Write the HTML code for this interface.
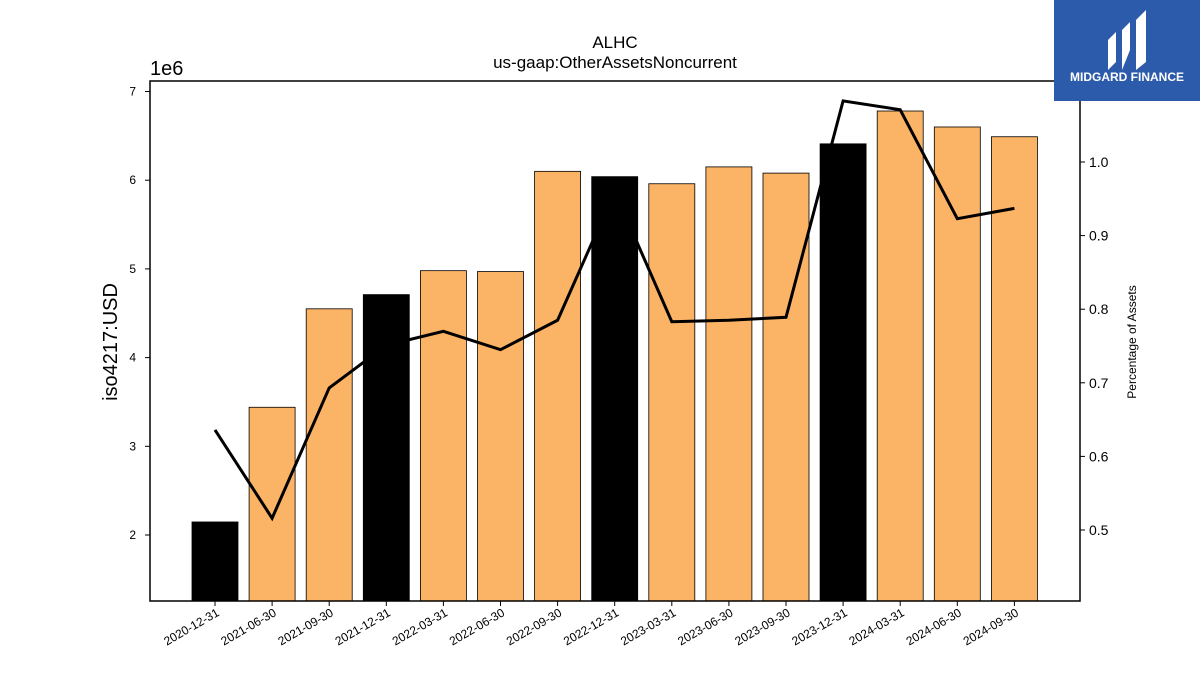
<!DOCTYPE html>
<html><head><meta charset="utf-8"><style>
body{margin:0;background:#fff;width:1200px;height:675px;overflow:hidden;font-family:"Liberation Sans","DejaVu Sans",sans-serif}
</style></head><body>
<svg id="c" width="1200" height="675" xmlns="http://www.w3.org/2000/svg">
<text x="615" y="48" font-size="17" text-anchor="middle">ALHC</text>
<text x="615" y="68" font-size="17" text-anchor="middle">us-gaap:OtherAssetsNoncurrent</text>
<text x="150" y="75" font-size="20">1e6</text>
<text transform="translate(117,342) rotate(-90)" font-size="20" text-anchor="middle">iso4217:USD</text>
<text transform="translate(1136,342) rotate(-90)" font-size="12" text-anchor="middle">Percentage of Assets</text>
<g id="bars"></g><g id="lines"></g><g id="axes"></g>
<rect x="150" y="81" width="930" height="520" fill="none" stroke="#000" stroke-width="1.5"/>
<g>
<rect x="1054" y="0" width="146" height="101" fill="#2d5bab"/>
<path d="M1108 70 V40 L1116 32 V62 Z M1122 70 V30 L1130 22 V50 Z M1136 70 V20 L1146 10 V62 Z" fill="#fff"/>
<text x="1127" y="81" font-size="12" font-weight="bold" fill="#fff" text-anchor="middle">MIDGARD FINANCE</text>
</g>
</svg>
<script>
const categories=["2020-12-31","2021-06-30","2021-09-30","2021-12-31","2022-03-31","2022-06-30","2022-09-30","2022-12-31","2023-03-31","2023-06-30","2023-09-30","2023-12-31","2024-03-31","2024-06-30","2024-09-30"];
const values=[2.147,3.44,4.55,4.71,4.98,4.97,6.10,6.04,5.96,6.15,6.08,6.41,6.78,6.60,6.49];
const pct=[0.636,0.516,0.693,0.751,0.770,0.745,0.785,0.96,0.783,0.785,0.789,1.083,1.071,0.923,0.937];
const yTicks=[2,3,4,5,6,7];
const y2Ticks=[0.5,0.6,0.7,0.8,0.9,1.0];
const NS="http://www.w3.org/2000/svg";
const X=i=>215+i*57.1;
const Y=v=>535-(v-2)*88.7;
const Y2=v=>530-(v-0.5)*736;
const bottom=601;
function mk(t,a,p){const e=document.createElementNS(NS,t);for(const k in a)e.setAttribute(k,a[k]);p.appendChild(e);return e;}
const bars=document.getElementById('bars'),lines=document.getElementById('lines'),axes=document.getElementById('axes');
values.forEach((v,i)=>{
 const black=categories[i].endsWith("12-31");
 const r=mk('rect',{x:X(i)-23,y:Y(v),width:46,height:bottom-Y(v),fill:black?'#000':'#fbb365',stroke:'#000','stroke-width':0.8},bars);
 
 
 const t=mk('line',{x1:X(i),x2:X(i),y1:bottom,y2:bottom+5,stroke:'#000'},axes);
 const l=mk('text',{x:0,y:0,'font-size':12,'text-anchor':'end',transform:`translate(${X(i)+5},${bottom+14}) rotate(-30)`},axes);
 l.textContent=categories[i];
 
 
});
const pl=mk('polyline',{points:pct.map((p,i)=>X(i)+','+Y2(p)).join(' '),fill:'none',stroke:'#000','stroke-width':3},lines);


yTicks.forEach(v=>{
 mk('line',{x1:145,x2:150,y1:Y(v),y2:Y(v),stroke:'#000'},axes);
 const t=mk('text',{x:136,y:Y(v)+4,'font-size':12,'text-anchor':'end'},axes);
 t.textContent=v;
 
 
});
y2Ticks.forEach(v=>{
 mk('line',{x1:1080,x2:1085,y1:Y2(v),y2:Y2(v),stroke:'#000'},axes);
 const t=mk('text',{x:1089,y:Y2(v)+5,'font-size':14},axes);
 t.textContent=v.toFixed(1);
 
 
});
</script>
</body></html>
